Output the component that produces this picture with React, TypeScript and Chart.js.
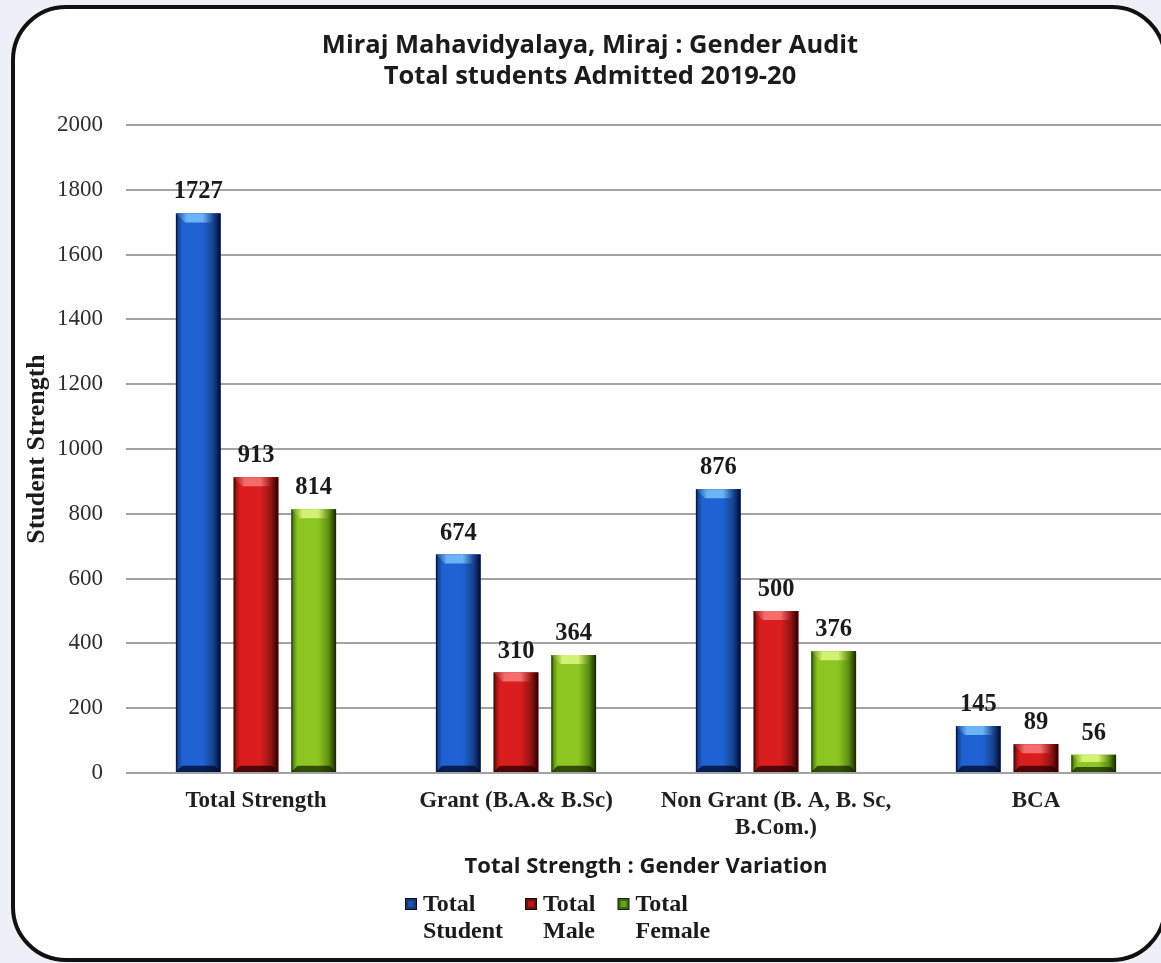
import React, { useEffect, useRef } from 'react';
import { Chart, registerables } from 'chart.js';

Chart.register(...registerables);

// ---------- data ----------
const TITLE_LINES = ['Miraj Mahavidyalaya, Miraj : Gender Audit', 'Total students Admitted 2019-20'];
const CATEGORIES = [
  ['Total Strength'],
  ['Grant (B.A.& B.Sc)'],
  ['Non Grant (B. A, B. Sc,', 'B.Com.)'],
  ['BCA'],
];
const SERIES_NAMES = [
  ['Total', 'Student'],
  ['Total', 'Male'],
  ['Total', 'Female'],
];
const TOTAL_STUDENT = [1727, 674, 876, 145];
const TOTAL_MALE = [913, 310, 500, 89];
const TOTAL_FEMALE = [814, 364, 376, 56];
const Y_MIN = 0;
const Y_MAX = 2000;
const Y_STEP = 200;
const X_TITLE = 'Total Strength : Gender Variation';
const Y_TITLE = 'Student Strength';

const SERIES = [TOTAL_STUDENT, TOTAL_MALE, TOTAL_FEMALE];

// ---------- styles ----------
const PALETTE = [
  { main: '#2062d4', light: '#6ab4f7', edge: '#15428f', dark: '#020a2a', legend: '#1c3a6a' },
  { main: '#da1d1d', light: '#f56c6c', edge: '#931313', dark: '#240000', legend: '#6a1212' },
  { main: '#8dc620', light: '#d2f274', edge: '#5c8c12', dark: '#162400', legend: '#3b6816' },
];
const SERIF = '"Liberation Serif", "Times New Roman", serif';
const SANS = '"Open Sans", sans-serif';

const bevelPlugin = {
  id: 'bevel',
  afterDatasetsDraw(chart: any) {
    const ctx = chart.ctx as CanvasRenderingContext2D;
    chart.data.datasets.forEach((_ds: any, di: number) => {
      const meta = chart.getDatasetMeta(di);
      const pal = PALETTE[di];
      meta.data.forEach((bar: any) => {
        const p = bar.getProps(['x', 'y', 'base', 'width'], true);
        const l = p.x - p.width / 2;
        const r = p.x + p.width / 2;
        const t = Math.min(p.y, p.base);
        const b = Math.max(p.y, p.base);
        const h = b - t;
        const bv = Math.min(9, h / 2.4);
        ctx.save();
        const g = ctx.createLinearGradient(l, 0, r, 0);
        g.addColorStop(0, pal.dark);
        g.addColorStop(0.05, pal.edge);
        g.addColorStop(0.14, pal.main);
        g.addColorStop(0.6, pal.main);
        g.addColorStop(0.84, pal.edge);
        g.addColorStop(1, pal.dark);
        ctx.fillStyle = g;
        ctx.fillRect(l, t, r - l, h);
        // top bevel
        ctx.beginPath();
        ctx.moveTo(l, t);
        ctx.lineTo(r, t);
        ctx.lineTo(r - bv, t + bv);
        ctx.lineTo(l + bv, t + bv);
        ctx.closePath();
        const gt = ctx.createLinearGradient(l, 0, r, 0);
        gt.addColorStop(0, pal.edge);
        gt.addColorStop(0.25, pal.light);
        gt.addColorStop(0.6, pal.light);
        gt.addColorStop(0.85, pal.edge);
        gt.addColorStop(1, pal.dark);
        ctx.fillStyle = gt;
        ctx.fill();
        // bottom bevel
        ctx.beginPath();
        ctx.moveTo(l, b);
        ctx.lineTo(r, b);
        ctx.lineTo(r - bv * 0.7, b - bv * 0.7);
        ctx.lineTo(l + bv * 0.7, b - bv * 0.7);
        ctx.closePath();
        ctx.fillStyle = pal.dark;
        ctx.globalAlpha = 0.75;
        ctx.fill();
        ctx.restore();
      });
    });
  },
};

const valueLabelPlugin = {
  id: 'valueLabels',
  afterDatasetsDraw(chart: any) {
    const ctx = chart.ctx as CanvasRenderingContext2D;
    ctx.save();
    ctx.font = `bold 24.5px ${SERIF}`;
    ctx.fillStyle = '#1a1a1a';
    ctx.textAlign = 'center';
    ctx.textBaseline = 'alphabetic';
    chart.data.datasets.forEach((ds: any, di: number) => {
      const meta = chart.getDatasetMeta(di);
      meta.data.forEach((bar: any, i: number) => {
        ctx.fillText(String(ds.data[i]), bar.x, bar.y - 15);
      });
    });
    ctx.restore();
  },
};

const decorPlugin = {
  id: 'decor',
  afterDraw(chart: any) {
    const ctx = chart.ctx as CanvasRenderingContext2D;
    const area = chart.chartArea;
    ctx.save();
    ctx.fillStyle = '#1b1b1b';
    ctx.textAlign = 'center';
    ctx.textBaseline = 'alphabetic';
    ctx.font = `bold 25.5px ${SANS}`;
    ctx.fillText(TITLE_LINES[0], 590, 53);
    ctx.fillText(TITLE_LINES[1], 590, 84);
    ctx.font = `bold 22px ${SANS}`;
    ctx.fillText(X_TITLE, (area.left + area.right) / 2, 873);

    // y title
    ctx.save();
    ctx.translate(44, (area.top + area.bottom) / 2);
    ctx.rotate(-Math.PI / 2);
    ctx.font = `bold 26px ${SERIF}`;
    ctx.fillText(Y_TITLE, 0, 0);
    ctx.restore();

    // legend
    ctx.font = `bold 24px ${SERIF}`;
    ctx.textAlign = 'left';
    let x = 405;
    const line1 = 911;
    const lineH = 27;
    chart.data.datasets.forEach((_ds: any, di: number) => {
      const pal = PALETTE[di];
      const names = SERIES_NAMES[di];
      ctx.fillStyle = pal.dark;
      ctx.fillRect(x, 898, 12, 12);
      ctx.fillStyle = pal.legend;
      ctx.fillRect(x + 1, 899, 10, 10);
      ctx.fillStyle = pal.main;
      ctx.globalAlpha = 0.6;
      ctx.fillRect(x + 3, 901, 6, 6);
      ctx.globalAlpha = 1;
      ctx.fillStyle = '#1b1b1b';
      let w = 0;
      names.forEach((n, k) => {
        ctx.fillText(n, x + 18, line1 + k * lineH);
        w = Math.max(w, ctx.measureText(n).width);
      });
      x += 18 + w + 22;
    });
    ctx.restore();
  },
};

export default function App() {
  const ref = useRef<HTMLCanvasElement>(null);
  useEffect(() => {
    document.body.style.margin = '0';
    const chart = new Chart(ref.current as HTMLCanvasElement, {
      type: 'bar',
      data: {
        labels: CATEGORIES as any,
        datasets: SERIES.map((vals, i) => ({
          label: SERIES_NAMES[i].join(' '),
          data: vals,
          backgroundColor: PALETTE[i].main,
          borderWidth: 0,
          categoryPercentage: 0.666,
          barPercentage: 0.775,
        })),
      },
      options: {
        responsive: false,
        animation: false,
        layout: { padding: { top: 125, right: 4, left: 0, bottom: 0 } },
        plugins: {
          legend: { display: false },
          title: { display: false },
          tooltip: { enabled: false },
        },
        scales: {
          x: {
            grid: { display: false, drawTicks: false },
            border: { display: false },
            ticks: {
              font: { family: SERIF, size: 23, weight: 'bold' },
              color: '#1f1f1f',
              padding: 14,
              maxRotation: 0,
              autoSkip: false,
            },
            afterFit: (s: any) => {
              s.height = 190;
            },
          },
          y: {
            min: Y_MIN,
            max: Y_MAX,
            ticks: {
              stepSize: Y_STEP,
              padding: 23,
              font: { family: SERIF, size: 23 },
              color: '#2e2e2e',
              callback: (v: any) => String(v),
            },
            grid: { color: '#a3a3a3', lineWidth: 2, drawTicks: false },
            border: { display: false },
            afterFit: (s: any) => {
              s.width = 126;
            },
          },
        },
      } as any,
      plugins: [bevelPlugin, valueLabelPlugin, decorPlugin],
    });
    return () => chart.destroy();
  }, []);

  return (
    <div
      style={{
        position: 'fixed',
        left: 0,
        top: 0,
        width: 1161,
        height: 963,
        overflow: 'hidden',
        background: '#edf1f7',
      }}
    >
      <div
        style={{
          position: 'absolute',
          left: 11,
          top: 5,
          width: 1156,
          height: 957,
          boxSizing: 'border-box',
          border: '4px solid #111',
          borderRadius: 55,
          background: '#fefefe',
        }}
      />
      <canvas
        ref={ref}
        width={1170}
        height={963}
        style={{ position: 'absolute', left: 0, top: 0, width: 1170, height: 963 }}
      />
    </div>
  );
}
